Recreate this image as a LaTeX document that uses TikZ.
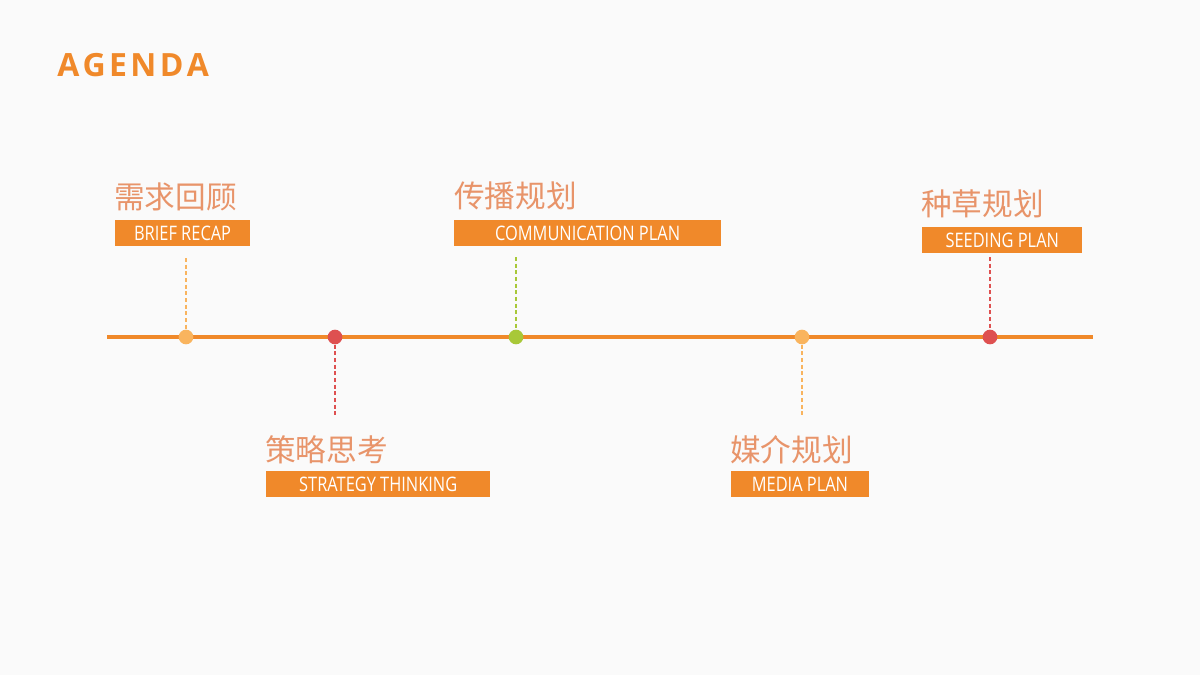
\documentclass[tikz,border=0pt]{standalone}
\usepackage{fontspec}
\setmainfont{Open Sans}
\newfontfamily\cjk{Noto Sans CJK SC}
\definecolor{bg}{HTML}{FAFAFA}
\definecolor{org}{HTML}{F0892A}
\definecolor{lorg}{HTML}{F9B45E}
\definecolor{cred}{HTML}{DE5050}
\definecolor{cgrn}{HTML}{A8C838}
\definecolor{ctxt}{HTML}{E8946A}
\tikzset{x=0.75pt,y=-0.75pt,
 tag/.style={fill=org,text=white,inner sep=0pt,minimum height=19pt,anchor=north west,font=\fontsize{15}{15}\selectfont},
 cn/.style={text=ctxt,inner sep=0pt,anchor=west,font=\cjk\fontsize{23}{23}\selectfont},
 dot/.style={circle,inner sep=0pt,minimum size=11pt},
 dashln/.style={line width=0.8pt,dash pattern=on 3pt off 2pt}}
\newcommand{\sq}[1]{\scalebox{0.82}[1]{#1}}
\begin{document}
\begin{tikzpicture}
\fill[bg] (0,0) rectangle (1200,675);
\useasboundingbox (0,0) rectangle (1200,675);
\node[text=org,anchor=west,inner sep=0pt,font=\bfseries\fontsize{24}{24}\selectfont] (title) at (57,65) {A\hspace{2.5pt}G\hspace{2.5pt}E\hspace{2.5pt}N\hspace{2.5pt}D\hspace{2.5pt}A};
\coordinate (l0) at (107,337); \coordinate (l1) at (1093,337);
\draw[org,line width=3pt] (l0) -- (l1);
\node[dot,fill=lorg] (d1) at (186,337) {};
\node[dot,fill=cred] (d2) at (335,337) {};
\node[dot,fill=cgrn] (d3) at (516,337) {};
\node[dot,fill=lorg] (d4) at (802,337) {};
\node[dot,fill=cred] (d5) at (990,337) {};
% labels
\node[cn] (c1) at (114,197) {需求回顾};
\node[tag,minimum width=101pt] (t1) at (115,220) {\sq{BRIEF RECAP}};
\node[cn] (c3) at (454,196) {传播规划};
\node[tag,minimum width=200pt] (t3) at (454,220) {\sq{COMMUNICATION PLAN}};
\node[cn] (c5) at (921,204) {种草规划};
\node[tag,minimum width=120pt] (t5) at (922,227) {\sq{SEEDING PLAN}};
\node[cn] (c2) at (265,450) {策略思考};
\node[tag,minimum width=168pt] (t2) at (266,471) {\sq{STRATEGY THINKING}};
\node[cn] (c4) at (730,450) {媒介规划};
\node[tag,minimum width=103pt] (t4) at (731,471) {\sq{MEDIA PLAN}};
\coordinate (e1) at (186,258); \coordinate (e2) at (335,415);
\coordinate (e3) at (516,257); \coordinate (e4) at (802,415);
\coordinate (e5) at (990,257);
\draw[dashln,lorg] (e1) -- (d1);
\draw[dashln,cred] (d2) -- (e2);
\draw[dashln,cgrn] (e3) -- (d3);
\draw[dashln,lorg] (d4) -- (e4);
\draw[dashln,cred] (e5) -- (d5);
\end{tikzpicture}
\end{document}
